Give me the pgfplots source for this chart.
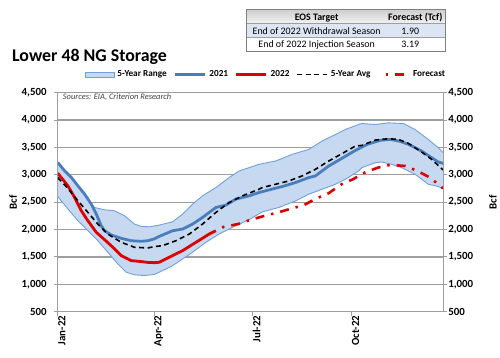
\documentclass[border=0pt]{standalone}
\usepackage{pgfplots}
\pgfplotsset{compat=1.18}
\usepgfplotslibrary{fillbetween}
\usepackage{fontspec}
\setmainfont{Carlito}
\definecolor{bandfill}{HTML}{C6D9F1}
\definecolor{bandedge}{HTML}{6F9FDF}
\definecolor{c2021}{HTML}{4A7EBB}
\definecolor{c2022}{HTML}{DD0000}
\definecolor{gridgray}{HTML}{9E9E9E}
\definecolor{hdrtop}{HTML}{CFCFCF}
\definecolor{hdrbot}{HTML}{F2F2F2}
\definecolor{rowblue}{HTML}{DCE6F2}
\definecolor{tbledge}{HTML}{808080}
\definecolor{srcgray}{HTML}{404040}
\begin{document}
\begin{tikzpicture}[x=1bp,y=1bp]
\path (0,0) rectangle (500,359);
% title
\node[anchor=base west, inner sep=0pt, font=\bfseries\fontsize{18}{20}\selectfont] at (12,297.3) {Lower 48 NG Storage};
% table
\fill[top color=hdrtop, bottom color=hdrbot] (248,335.5) rectangle (447,349);
\fill[rowblue] (248,321.5) rectangle (447,335.5);
\draw[gridgray, line width=0.6bp] (248,335.5) -- (447,335.5) (248,321.5) -- (447,321.5);
\draw[tbledge, line width=1bp] (248,307.5) rectangle (447,349);
\begin{scope}[every node/.style={anchor=base, inner sep=0pt, font=\fontsize{10}{12}\selectfont}]
\node[font=\bfseries\fontsize{10}{12}\selectfont] at (318,338.6) {EOS Target};
\node[font=\bfseries\fontsize{10}{12}\selectfont] at (417,338.6) {Forecast (Tcf)};
\node at (318,324.6) {End of 2022 Withdrawal Season};
\node at (412,324.6) {1.90};
\node at (318,310.8) {End of 2022 Injection Season};
\node at (412,310.8) {3.19};
\end{scope}
% source note
\node[anchor=base west, inner sep=0pt, font=\itshape\fontsize{8.5}{10}\selectfont, text=srcgray] at (63,259) {Sources: EIA, Criterion Research};

\begin{axis}[
  at={(58bp,46bp)}, anchor=south west,
  scale only axis, width=387bp, height=220bp,
  xmin=0, xmax=358, ymin=500, ymax=4500,
  xtick={0,90,181,273}, xticklabels={Jan-22,Apr-22,Jul-22,Oct-22},
  xtick pos=bottom, ytick pos=left,
  ytick={500,1000,...,4500},
  tick align=outside, major tick length=4bp,
  tick style={gridgray, line width=1bp},
  /pgf/number format/assume math mode=true,
  /pgf/number format/1000 sep={,},
  xticklabel style={rotate=90, anchor=east, inner sep=0pt, yshift=-4bp, font=\bfseries\fontsize{11}{12}\selectfont},
  yticklabel style={anchor=east, inner sep=0pt, xshift=-7bp, font=\bfseries\fontsize{11}{12}\selectfont},
  ymajorgrids, grid style={gridgray, line width=1.2bp},
  axis line style={gridgray, line width=1.2bp},
  ylabel={Bcf},
  ylabel style={at={(axis description cs:-0.116,0.5)}, anchor=center, font=\bfseries\fontsize{11}{12}\selectfont},
  legend columns=5,
  legend style={at={(axis description cs:0.5375,1.082)}, anchor=center, draw=none, fill=none,
    font=\bfseries\fontsize{9.3}{10}\selectfont,
    nodes={inner xsep=0pt, inner ysep=1pt},
    /tikz/every odd column/.append style={column sep=3bp},
    /tikz/every even column/.append style={column sep=7bp}},
  legend image code/.code={\draw[#1] (0bp,0bp) -- (30bp,0bp);},
]
\addplot[name path=upper, bandedge, line width=0.9bp, forget plot] coordinates {
(0,3233)(6.5,3069)(12.7,2949)(18.8,2796)(25,2645)(28,2560)(31.2,2470)(34.2,2403)
(43.5,2360)(52.7,2342)(62,2251)(71.3,2100)(77.5,2058)(85.1,2050)(94.4,2082)
(106.7,2142)(116,2282)(125.2,2463)(134.5,2615)(146.9,2767)(159.2,2949)(168.4,3069)
(177.7,3130)(186.9,3191)(202.4,3251)(217.7,3372)(233.2,3463)(245.5,3615)(257.9,3736)
(267.2,3827)(279.5,3918)(282.5,3936)(294.9,3918)(307.2,3948)(321.1,3936)(331.9,3827)
(344.2,3645)(353.5,3494)(358,3403)};
\addplot[name path=lower, bandedge, line width=0.9bp, forget plot] coordinates {
(0,2603)(9.5,2373)(18.8,2160)(28,1978)(37.3,1796)(46.5,1585)(55.8,1373)(63.6,1221)
(71.3,1173)(80.5,1160)(89.8,1180)(97.4,1251)(106.7,1342)(116,1464)(125.2,1585)
(137.6,1767)(149.9,1918)(162.2,2040)(177.7,2180)(190,2323)(205.4,2403)(220.9,2523)
(233.2,2645)(245.5,2736)(257.9,2827)(267.2,2918)(279.5,3069)(282.5,3130)(294.9,3221)
(301,3233)(310.3,3191)(319.5,3130)(331.9,3009)(344.2,2827)(353.5,2785)(358,2749)};
\addplot[bandfill, draw=none,
  legend image code/.code={\draw[fill=bandfill, draw=bandedge, line width=0.8bp] (0bp,-2.5bp) rectangle (29bp,2.5bp);}]
  fill between[of=upper and lower];
\addlegendentry{5-Year Range}
\addplot[c2021, line width=2.8bp] coordinates {
(0,3225)(6.5,3069)(12.7,2949)(18.8,2796)(25,2645)(31.2,2463)(35.8,2282)(40.4,2069)
(43.5,1978)(49.7,1900)(58.9,1840)(68.2,1796)(77.5,1785)(83.6,1796)(89.8,1830)
(94.4,1876)(106.7,1978)(116,2009)(125.2,2100)(134.5,2221)(146.9,2403)(156.1,2445)
(165.4,2555)(177.7,2615)(186.9,2676)(196.2,2724)(208.5,2785)(220.9,2858)(233.2,2949)
(239.4,2979)(251.7,3160)(264,3300)(276,3440)(288,3560)(300,3630)(309,3645)(318,3610)
(326,3554)(338,3433)(347.3,3312)(353.5,3233)(358,3209)};
\addlegendentry{2021}
\addplot[c2022, line width=2.8bp] coordinates {
(0,3030)(9.5,2796)(15.7,2585)(21.9,2342)(28,2160)(35.8,1949)(43.5,1815)(51.2,1676)
(58.9,1524)(68.2,1433)(77.5,1415)(83.6,1400)(89.8,1395)(94.4,1403)(103.6,1494)
(116,1615)(128.4,1767)(140.7,1918)(146.9,1978)};
\addlegendentry{2022}
\addplot[black, line width=1.6bp, dash pattern=on 5bp off 3.5bp] coordinates {
(0,2949)(9.5,2749)(18.8,2524)(28,2313)(37.3,2100)(46.5,1918)(58.9,1767)(71.3,1676)
(83.6,1664)(89.8,1688)(97.4,1706)(109.8,1796)(122.2,1918)(134.5,2100)(146.9,2313)
(159.2,2494)(171.5,2615)(186.9,2736)(190,2767)(202.4,2827)(214.7,2888)(227,2979)
(239.4,3100)(251.7,3251)(264,3385)(276.4,3524)(282.5,3536)(294.9,3633)(307.2,3658)
(316.5,3645)(325.7,3573)(338,3415)(347.3,3282)(358,3087)};
\addlegendentry{5-Year Avg}
\addplot[c2022, line width=2.6bp, dash pattern=on 9bp off 7bp on 2.5bp off 7bp, dash phase=9bp] coordinates {
(146.9,1978)(154.5,2051)(167.5,2100)(179.3,2180)(192.5,2252)(204.8,2313)(216.5,2380)
(228.6,2445)(239.7,2563)(251.7,2663)(262.8,2818)(274.2,2918)(285,3039)(297.3,3130)
(309,3182)(322.7,3160)(334,3070)(345.8,2949)(358,2749)};
\addlegendentry{Forecast}
\end{axis}
\begin{axis}[
  at={(58bp,46bp)}, anchor=south west,
  scale only axis, width=387bp, height=220bp,
  xmin=0, xmax=358, ymin=500, ymax=4500,
  axis x line=none, axis y line*=right,
  ytick={500,1000,...,4500},
  tick align=outside, major tick length=4bp,
  tick style={gridgray, line width=1bp},
  axis line style={gridgray, line width=1.2bp},
  /pgf/number format/assume math mode=true,
  /pgf/number format/1000 sep={,},
  yticklabel style={anchor=west, inner sep=0pt, xshift=1bp, font=\bfseries\fontsize{11}{12}\selectfont},
  ylabel={Bcf},
  ylabel style={at={(axis description cs:1.129,0.5)}, anchor=center, font=\bfseries\fontsize{11}{12}\selectfont},
]
\addplot[draw=none, forget plot] coordinates {(0,500)(358,4500)};
\end{axis}
\end{tikzpicture}
\end{document}
